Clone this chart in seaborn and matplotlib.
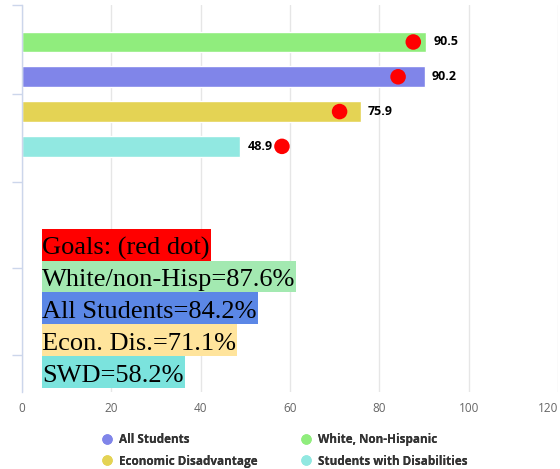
import numpy as np
import pandas as pd
import matplotlib
matplotlib.use("Agg")
import matplotlib.pyplot as plt
import seaborn as sns
from matplotlib.patches import Rectangle
from matplotlib.transforms import IdentityTransform
from matplotlib.lines import Line2D

# ---- data ----
groups = ["White, Non-Hispanic", "All Students", "Economic Disadvantage", "Students with Disabilities"]
values = [90.5, 90.2, 75.9, 48.9]
goals = [87.6, 84.2, 71.1, 58.2]
bar_colors = ["#90ed7d", "#8085e9", "#e4d354", "#91e8e1"]
legend_col1 = ["All Students", "Economic Disadvantage"]
legend_col2 = ["White, Non-Hispanic", "Students with Disabilities"]
goal_lines = ["Goals: (red dot)", "White/non-Hisp=87.6%", "All Students=84.2%", "Econ. Dis.=71.1%", "SWD=58.2%"]
goal_bg = ["#ff0000", "#a3e9b1", "#5b87e6", "#ffe49c", "#7be3dd"]
x_ticks = [0, 20, 40, 60, 80, 100, 120]

sns.set_style("white")
plt.rcParams["font.family"] = ["Open Sans", "DejaVu Sans"]

W, H = 560, 469
fig = plt.figure(figsize=(W / 100, H / 100), dpi=100)
ax = fig.add_axes([22 / W, 1 - 392 / H, (558 - 22) / W, (392 - 5) / H])

df = pd.DataFrame({"group": groups, "value": values})
palette = dict(zip(groups, bar_colors))
sns.barplot(data=df, x="value", y="group", hue="group", order=groups, hue_order=groups,
            palette=palette, saturation=1, width=0.6, legend=False, ax=ax, zorder=2)

pos = np.arange(len(groups))
sns.scatterplot(x=goals, y=pos, color="#ff0000", s=125, edgecolor="none", zorder=5,
                legend=False, ax=ax)

for i, v in enumerate(values):
    ax.annotate(f"{v}", (v, i), xytext=(5, 0), textcoords="offset points",
                ha="left", va="center", fontsize=9, fontweight="bold", color="#000000", zorder=6)

ax.set_xlim(0, 120)
ax.set_ylim(10.06, -1.063)
ax.set_xticks(x_ticks)
ax.set_xticklabels([str(t) for t in x_ticks])
ax.get_xticklabels()[-1].set_horizontalalignment("right")
ax.set_yticks([-1.063, 1.494, 4.02, 6.49, 8.99])
ax.set_yticklabels([])
ax.set_xlabel("")
ax.set_ylabel("")
ax.xaxis.grid(True, color="#e6e6e6", lw=1)
ax.yaxis.grid(False)
ax.set_axisbelow(True)
for s in ["top", "right", "bottom"]:
    ax.spines[s].set_visible(False)
ax.spines["left"].set_color("#ccd6eb")
ax.spines["left"].set_linewidth(1)
ax.tick_params(axis="y", length=7, width=1, color="#ccd6eb", left=True)
ax.tick_params(axis="x", length=0, pad=7, labelsize=8.5, labelcolor="#666666")

# ---- legend (two columns) ----
fs = 8.5
fs_px = fs * 100 / 72
for names, cx in [(legend_col1, 107), (legend_col2, 306)]:
    handles = [Line2D([], [], marker="o", ls="", markerfacecolor=palette[g], markeredgecolor="none",
                      markersize=7.5, label=g) for g in names]
    leg = fig.legend(handles=handles, loc="center left",
                     bbox_to_anchor=((cx - fs_px / 2) / W, 1 - 450.5 / H),
                     frameon=False, prop={"weight": "bold", "size": fs}, labelcolor="#333333",
                     handlelength=1.0, handletextpad=(12 - fs_px / 2) / fs_px,
                     borderpad=0, borderaxespad=0, labelspacing=0.7)
    fig.add_artist(leg)

# ---- goals overlay ----
fig.canvas.draw()
renderer = fig.canvas.get_renderer()
box_tops = [229, 261, 292, 324, 356, 388]
for k, (txt, bg) in enumerate(zip(goal_lines, goal_bg)):
    top, bot = box_tops[k], box_tops[k + 1]
    t = fig.text(42, H - bot + 6, txt, transform=IdentityTransform(), ha="left", va="baseline",
                 fontsize=19, family=["Liberation Serif", "DejaVu Serif"], color="#000000", zorder=11)
    bb = t.get_window_extent(renderer)
    fig.patches.append(Rectangle((42, H - bot), bb.x1 - 42 + 1, bot - top,
                                 transform=IdentityTransform(), facecolor=bg, edgecolor="none",
                                 zorder=10, figure=fig))

fig.savefig("out.png", dpi=100)
